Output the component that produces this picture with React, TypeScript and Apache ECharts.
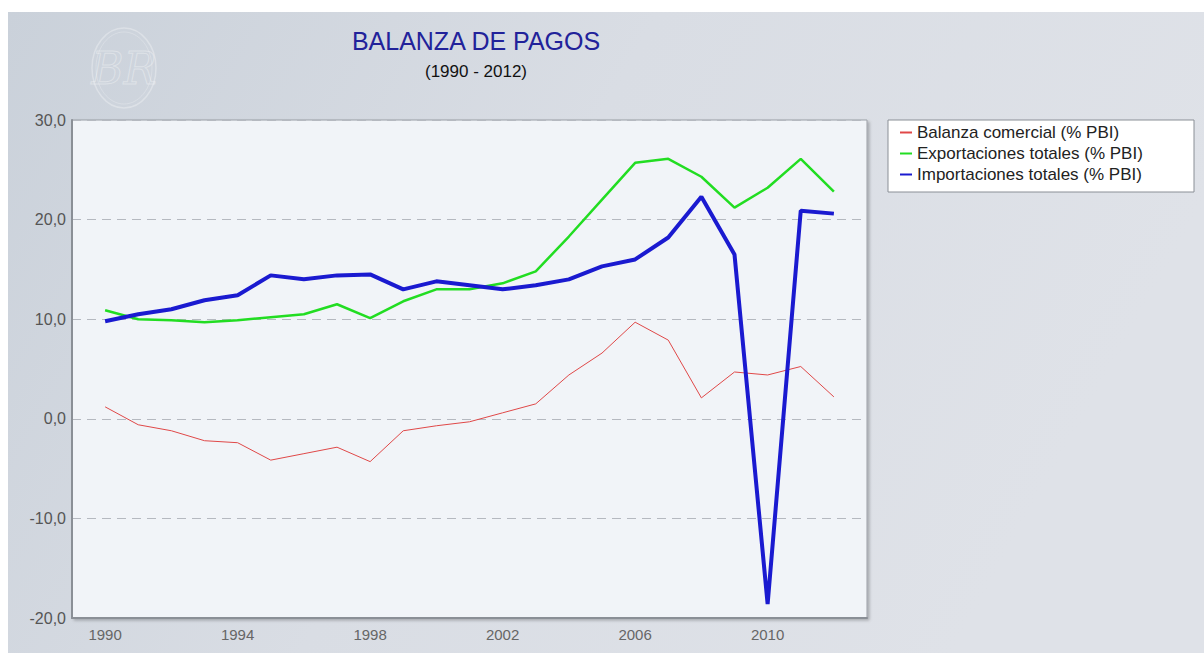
import React, { useEffect, useRef } from "react";
import * as echarts from "echarts";

const years = [1990, 1991, 1992, 1993, 1994, 1995, 1996, 1997, 1998, 1999, 2000, 2001, 2002, 2003, 2004, 2005, 2006, 2007, 2008, 2009, 2010, 2011, 2012];
const balanza = [1.2, -0.6, -1.2, -2.2, -2.4, -4.15, -3.5, -2.85, -4.3, -1.2, -0.7, -0.3, 0.6, 1.5, 4.4, 6.6, 9.7, 7.9, 2.1, 4.7, 4.4, 5.25, 2.2];
const exportaciones = [10.9, 10.0, 9.9, 9.7, 9.9, 10.2, 10.5, 11.5, 10.1, 11.8, 13.0, 13.0, 13.6, 14.8, 18.3, 22.0, 25.7, 26.1, 24.3, 21.2, 23.2, 26.1, 22.8];
const importaciones = [9.8, 10.5, 11.0, 11.9, 12.4, 14.4, 14.0, 14.4, 14.5, 13.0, 13.8, 13.4, 13.0, 13.4, 14.0, 15.3, 16.0, 18.2, 22.3, 16.5, -18.6, 20.9, 20.6];
const yTicks = [-20, -10, 0, 10, 20, 30];
const xLabelYears = [1990, 1994, 1998, 2002, 2006, 2010];
const seriesNames = ["Balanza comercial (% PBI)", "Exportaciones totales (% PBI)", "Importaciones totales (% PBI)"];

const FONT = "Liberation Sans, Arial, sans-serif";

export default function App() {
  const ref = useRef<HTMLDivElement>(null);
  useEffect(() => {
    if (!ref.current) return;
    const chart = echarts.init(ref.current, null, { renderer: "svg" });
    const pairs = (arr: number[]) => years.map((y, i) => [y, arr[i]]);
    chart.setOption({
      animation: false,
      backgroundColor: new echarts.graphic.LinearGradient(0, 0, 1, 0.3, [
        { offset: 0, color: "#cad1da" },
        { offset: 0.5, color: "#d9dde4" },
        { offset: 1, color: "#dfe2e8" },
      ]),
      title: [
        {
          text: "BALANZA DE PAGOS",
          left: 463,
          top: 11,
          textAlign: "center",
          textStyle: { color: "#22229a", fontSize: 25, fontWeight: "normal", fontFamily: FONT },
        },
        {
          text: "(1990 - 2012)",
          left: 463,
          top: 46,
          textAlign: "center",
          textStyle: { color: "#111", fontSize: 17, fontWeight: "normal", fontFamily: FONT },
        },
      ],
      graphic: [
        {
          type: "ellipse",
          shape: { cx: 116, cy: 56, rx: 32, ry: 40 },
          style: { fill: "none", stroke: "rgba(255,255,255,0.3)", lineWidth: 1.5 },
          silent: true,
        },
        {
          type: "ellipse",
          shape: { cx: 116, cy: 56, rx: 28, ry: 36 },
          style: { fill: "none", stroke: "rgba(255,255,255,0.22)", lineWidth: 1 },
          silent: true,
        },
        {
          type: "text",
          x: 116,
          y: 56,
          style: {
            text: "BR",
            align: "center",
            verticalAlign: "middle",
            font: "italic 44px 'DejaVu Serif', serif",
            fill: "none",
            stroke: "rgba(255,255,255,0.35)",
            lineWidth: 1,
          },
          silent: true,
        },
        {
          type: "rect",
          shape: { x: 880, y: 108, width: 306, height: 72 },
          style: { fill: "#ffffff", stroke: "#8a8f96", lineWidth: 1 },
          z: 0,
          silent: true,
        },
      ],
      legend: {
        data: seriesNames,
        orient: "vertical",
        left: 886,
        top: 107,
        itemWidth: 12,
        itemHeight: 12,
        itemGap: 4,
        itemStyle: { opacity: 0 },
        textStyle: { color: "#222", fontSize: 17, fontFamily: FONT },
        z: 10,
      },
      grid: {
        left: 64,
        right: 337,
        top: 108,
        bottom: 35,
        show: true,
        backgroundColor: "#f1f4f8",
        borderColor: "#9a9ea5",
        borderWidth: 1,
        shadowColor: "rgba(0,0,0,0.25)",
        shadowBlur: 3,
        shadowOffsetX: 2,
        shadowOffsetY: 2,
      },
      xAxis: {
        type: "value",
        min: 1989,
        max: 2013,
        interval: 1,
        axisLine: { show: true, onZero: false, lineStyle: { color: "#8a8f96", width: 2 } },
        axisTick: { show: false },
        splitLine: { show: false },
        axisLabel: {
          color: "#666",
          fontSize: 15,
          margin: 9,
          fontFamily: FONT,
          formatter: (v: number) => (xLabelYears.includes(v) ? String(v) : ""),
        },
      },
      yAxis: {
        type: "value",
        min: yTicks[0],
        max: yTicks[yTicks.length - 1],
        interval: 10,
        axisLine: { show: true, lineStyle: { color: "#8a8f96", width: 2 } },
        axisTick: { show: false },
        splitLine: { show: true, lineStyle: { color: "#b5b9c0", type: [9, 6], width: 1.2 } },
        axisLabel: {
          color: "#555",
          fontSize: 16,
          margin: 6,
          fontFamily: FONT,
          formatter: (v: number) => v.toFixed(1).replace(".", ","),
        },
      },
      series: [
        {
          name: seriesNames[0],
          type: "line",
          data: pairs(balanza),
          symbol: "none",
          lineStyle: { color: "#e04848", width: 1 },
          itemStyle: { color: "#e08888" },
          z: 3,
        },
        {
          name: seriesNames[1],
          type: "line",
          data: pairs(exportaciones),
          symbol: "none",
          lineStyle: { color: "#22dd22", width: 2.5 },
          itemStyle: { color: "#22cc22" },
          z: 4,
        },
        {
          name: seriesNames[2],
          type: "line",
          data: pairs(importaciones),
          symbol: "none",
          lineStyle: { color: "#1a1ad0", width: 4 },
          itemStyle: { color: "#1a1ad0" },
          z: 5,
        },
      ],
    });
    return () => chart.dispose();
  }, []);
  return (
    <div
      ref={ref}
      style={{ position: "absolute", left: 8, top: 12, width: 1196, height: 641 }}
    />
  );
}
